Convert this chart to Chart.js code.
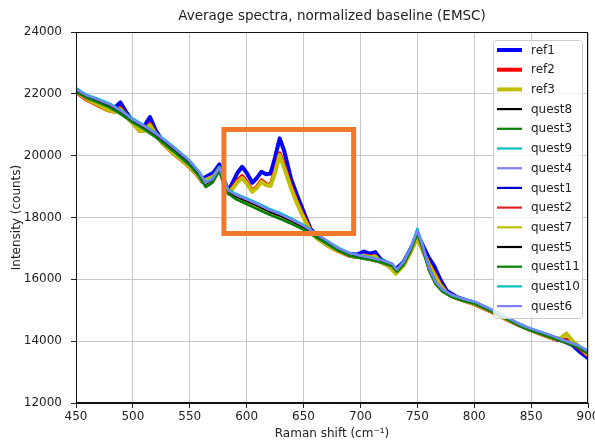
<!DOCTYPE html>
<html>
<head>
<meta charset="utf-8">
<script src="https://cdn.jsdelivr.net/npm/chart.js@4.4.1/dist/chart.umd.min.js"></script>
<style>
  html, body { margin: 0; padding: 0; background: #fff; }
  canvas { display: block; }
</style>
</head>
<body>
<canvas id="spectraChart" width="595" height="442"></canvas>
<script>
// Raman shift sampling (cm-1)
const refShift = [450, 460, 470, 478, 484, 489, 494, 500, 506, 510, 515, 520, 526, 535, 545, 555, 561, 566, 571, 576,
                  580, 584, 588, 592, 596, 600, 605, 609, 613, 617, 621, 625, 629, 633, 639, 644, 648, 652, 656, 662,
                  670, 680, 690, 697, 703, 708, 713, 718, 725, 731, 738, 744, 750, 755, 760, 765, 770, 776, 785, 800,
                  815, 830, 845, 860, 870, 876, 881, 886, 893, 900];
const questShift = [450, 460, 470, 480, 490, 500, 510, 520, 530, 540, 550, 558, 564, 570, 576, 580, 584, 590, 600, 610,
                    620, 630, 640, 650, 660, 670, 680, 690, 700, 710, 720, 728, 732, 738, 744, 750, 755, 760, 766, 772,
                    780, 790, 800, 810, 820, 830, 840, 850, 860, 870, 880, 890, 900];

// intensities (counts)
const ref1 = [22150, 21880, 21720, 21560, 21560, 21720, 21420, 21100, 20850, 20950, 21250, 20820, 20480, 20170, 19870, 19520, 19250, 19350, 19460, 19720,
              19200, 18870, 19150, 19450, 19640, 19450, 19120, 19280, 19480, 19400, 19420, 19950, 20560, 20150, 19250, 18750, 18380, 18000, 17640, 17380,
              17180, 16980, 16830, 16800, 16900, 16830, 16880, 16640, 16500, 16330, 16560, 16980, 17460, 17080, 16700, 16420, 16000, 15620, 15420, 15240,
              14990, 14700, 14450, 14230, 14080, 14030, 13960, 13880, 13650, 13450];
const ref2 = [22060, 21800, 21620, 21470, 21430, 21540, 21320, 21050, 20800, 20820, 21030, 20710, 20400, 20090, 19790, 19440, 19160, 19240, 19320, 19580,
              19100, 18780, 18980, 19200, 19340, 19150, 18860, 19000, 19200, 19080, 19060, 19500, 20080, 19680, 19000, 18530, 18190, 17880, 17580, 17330,
              17120, 16920, 16770, 16720, 16770, 16730, 16750, 16560, 16430, 16230, 16470, 16890, 17380, 16920, 16520, 16200, 15850, 15560, 15390, 15200,
              14950, 14670, 14430, 14210, 14070, 14040, 14050, 13960, 13750, 13540];
const ref3 = [22080, 21820, 21640, 21480, 21420, 21500, 21300, 21040, 20800, 20800, 20990, 20700, 20400, 20100, 19800, 19450, 19180, 19250, 19330, 19600,
              19120, 18800, 18950, 19150, 19280, 19100, 18830, 18960, 19160, 19050, 19020, 19450, 20020, 19600, 18950, 18480, 18150, 17850, 17560, 17320,
              17120, 16920, 16780, 16720, 16760, 16720, 16740, 16560, 16430, 16180, 16450, 16880, 17350, 16900, 16500, 16150, 15820, 15550, 15380, 15210,
              14960, 14680, 14440, 14220, 14080, 14100, 14250, 14020, 13800, 13560];

const quest8 = [22100, 21920, 21780, 21580, 21400, 21100, 20920, 20640, 20400, 20060, 19780, 19400, 19060, 19180, 19560, 19140, 18830, 18690, 18530, 18340,
                18190, 18060, 17850, 17690, 17440, 17230, 16980, 16820, 16720, 16660, 16560, 16470, 16280, 16510, 16940, 17500, 16990, 16340, 15880, 15650,
                15480, 15330, 15260, 15090, 14890, 14730, 14510, 14380, 14240, 14130, 13990, 13850, 13640];
const quest3 = [22060, 21850, 21700, 21540, 21320, 21060, 20840, 20590, 20300, 20000, 19680, 19340, 18980, 19120, 19500, 19080, 18760, 18600, 18430, 18260,
                18090, 17940, 17780, 17600, 17380, 17160, 16930, 16760, 16680, 16610, 16520, 16420, 16220, 16470, 16900, 17460, 16940, 16300, 15840, 15600,
                15430, 15300, 15210, 15040, 14860, 14680, 14480, 14330, 14210, 14080, 13950, 13810, 13600];
const quest9 = [22180, 21960, 21830, 21680, 21460, 21200, 20980, 20740, 20460, 20160, 19840, 19500, 19140, 19260, 19620, 19220, 18900, 18780, 18620, 18460,
                18280, 18140, 17960, 17760, 17510, 17270, 17040, 16860, 16780, 16700, 16620, 16510, 16320, 16580, 17020, 17640, 17080, 16400, 15920, 15680,
                15500, 15380, 15290, 15120, 14940, 14760, 14560, 14410, 14290, 14160, 14020, 13890, 13700];
const quest4 = [22140, 21930, 21790, 21640, 21420, 21150, 20940, 20700, 20420, 20120, 19800, 19460, 19110, 19230, 19600, 19180, 18860, 18730, 18570, 18410,
                18230, 18090, 17910, 17720, 17480, 17250, 17010, 16840, 16750, 16680, 16590, 16490, 16300, 16550, 16980, 17560, 17030, 16380, 15900, 15660,
                15490, 15360, 15270, 15100, 14920, 14740, 14540, 14390, 14270, 14140, 14000, 13870, 13670];
const quest1 = [22120, 21880, 21750, 21610, 21370, 21110, 20890, 20650, 20370, 20070, 19750, 19410, 19070, 19190, 19570, 19160, 18830, 18670, 18510, 18350,
                18170, 18030, 17860, 17670, 17440, 17210, 16980, 16810, 16740, 16650, 16560, 16450, 16250, 16510, 16940, 17510, 17020, 16400, 15920, 15640,
                15460, 15330, 15240, 15070, 14890, 14710, 14510, 14360, 14240, 14110, 13970, 13830, 13610];
const quest2 = [22080, 21840, 21700, 21560, 21340, 21080, 20860, 20620, 20340, 20040, 19720, 19380, 19040, 19160, 19540, 19110, 18790, 18640, 18480, 18310,
                18140, 17990, 17820, 17640, 17410, 17180, 16950, 16780, 16700, 16620, 16530, 16430, 16230, 16490, 16920, 17480, 16960, 16320, 15850, 15610,
                15440, 15310, 15220, 15050, 14870, 14690, 14490, 14340, 14220, 14090, 13960, 13820, 13620];
const quest7 = [22090, 21860, 21690, 21530, 21320, 21050, 20830, 20590, 20310, 20010, 19700, 19370, 19030, 19150, 19530, 19120, 18800, 18650, 18490, 18330,
                18150, 18010, 17840, 17650, 17420, 17190, 16960, 16790, 16700, 16630, 16540, 16440, 16200, 16480, 16920, 17470, 16970, 16330, 15860, 15620,
                15450, 15320, 15230, 15060, 14880, 14700, 14500, 14350, 14230, 14100, 13970, 13840, 13630];
const quest5 = [22130, 21910, 21770, 21610, 21390, 21130, 20910, 20670, 20390, 20090, 19770, 19430, 19090, 19210, 19590, 19160, 18830, 18690, 18530, 18370,
                18190, 18050, 17880, 17690, 17460, 17230, 17000, 16810, 16730, 16660, 16570, 16470, 16270, 16530, 16960, 17530, 17010, 16360, 15890, 15630,
                15470, 15340, 15250, 15080, 14900, 14720, 14520, 14370, 14250, 14120, 13980, 13850, 13650];
const quest11 = [22070, 21860, 21710, 21550, 21330, 21070, 20850, 20600, 20310, 20010, 19690, 19350, 18990, 19130, 19510, 19090, 18770, 18610, 18440, 18270,
                 18100, 17950, 17790, 17610, 17390, 17170, 16940, 16770, 16690, 16620, 16530, 16430, 16240, 16480, 16910, 17470, 16950, 16310, 15850, 15610,
                 15440, 15310, 15220, 15050, 14870, 14690, 14490, 14340, 14220, 14090, 13960, 13820, 13610];
const quest10 = [22170, 21950, 21820, 21670, 21450, 21190, 20970, 20730, 20450, 20150, 19830, 19490, 19130, 19250, 19640, 19210, 18890, 18760, 18600, 18440,
                 18260, 18120, 17940, 17750, 17500, 17260, 17030, 16850, 16770, 16690, 16610, 16500, 16310, 16570, 17010, 17620, 17070, 16390, 15910, 15670,
                 15490, 15370, 15280, 15110, 14930, 14750, 14550, 14400, 14280, 14150, 14010, 13880, 13690];
const quest6 = [22150, 21940, 21800, 21650, 21430, 21160, 20950, 20710, 20430, 20130, 19810, 19470, 19120, 19240, 19610, 19190, 18870, 18740, 18580, 18420,
                18240, 18100, 17920, 17730, 17490, 17260, 17020, 16850, 16760, 16690, 16600, 16500, 16310, 16560, 16990, 17570, 17040, 16390, 15910, 15670,
                15500, 15370, 15280, 15110, 14930, 14750, 14550, 14400, 14280, 14150, 14010, 13880, 13680];

// highlighted region (orange frame)
const boxShift = [580, 694, 694, 580, 580];
const boxIntensity = [20850, 20850, 17480, 17480, 20850];

const xTicks = [450, 500, 550, 600, 650, 700, 750, 800, 850, 900];
const yTicks = [12000, 14000, 16000, 18000, 20000, 22000, 24000];

const seriesNames = ['ref1', 'ref2', 'ref3', 'quest8', 'quest3', 'quest9', 'quest4', 'quest1', 'quest2', 'quest7',
                     'quest5', 'quest11', 'quest10', 'quest6'];
const seriesValues = [ref1, ref2, ref3, quest8, quest3, quest9, quest4, quest1, quest2, quest7, quest5, quest11, quest10, quest6];
const seriesColors = ['#0000ff', '#ff0000', '#bfbf00', '#000000', '#008000', '#00bfbf', '#8080ff', '#0000cc', '#e02020', '#bfbf00',
                      '#000000', '#008000', '#00bfbf', '#8080ff'];

const toPoints = (xs, ys) => xs.map((x, i) => ({ x: x, y: ys[i] }));

const datasets = seriesNames.map((name, i) => {
    const isRef = name.startsWith('ref');
    return {
        label: name,
        data: toPoints(isRef ? refShift : questShift, seriesValues[i]),
        borderColor: seriesColors[i],
        backgroundColor: seriesColors[i],
        borderWidth: isRef ? 4 : 2.2,
        order: 30 - i,   // later series drawn on top, like matplotlib
        fill: false
    };
});

datasets.push({
    label: 'box',
    noLegend: true,
    data: toPoints(boxShift, boxIntensity),
    borderColor: '#f07828',
    borderWidth: 5,
    borderJoinStyle: 'miter',
    borderCapStyle: 'square',
    order: 0,
    fill: false
});

const FONT = '"DejaVu Sans", sans-serif';

const decorations = {
    id: 'decorations',
    afterDraw(chart) {
        const ctx = chart.ctx;
        const area = chart.chartArea;
        ctx.save();

        // spines
        ctx.strokeStyle = '#111';
        ctx.lineWidth = 1;
        ctx.strokeRect(area.left + 0.5, area.top + 0.5, area.right - area.left - 1, area.bottom - area.top - 1);

        // legend inside the plot, top right
        const items = chart.data.datasets.filter(d => !d.noLegend);
        const lx = area.right - 95, ly = area.top + 8, lw = 89, lh = 278;
        ctx.fillStyle = 'rgba(255,255,255,0.8)';
        ctx.strokeStyle = '#cccccc';
        ctx.beginPath();
        ctx.roundRect(lx + 0.5, ly + 0.5, lw, lh, 3);
        ctx.fill();
        ctx.stroke();
        ctx.font = '12px ' + FONT;
        ctx.textBaseline = 'middle';
        ctx.textAlign = 'left';
        items.forEach((d, i) => {
            const y = ly + 10 + i * 19.7;
            ctx.strokeStyle = d.borderColor;
            ctx.lineWidth = d.borderWidth;
            ctx.beginPath();
            ctx.moveTo(lx + 4, y);
            ctx.lineTo(lx + 29, y);
            ctx.stroke();
            ctx.fillStyle = '#222';
            ctx.fillText(d.label, lx + 38, y + 0.5);
        });

        // title and axis labels
        ctx.fillStyle = '#222';
        ctx.textAlign = 'center';
        ctx.font = '13.5px ' + FONT;
        ctx.fillText('Average spectra, normalized baseline (EMSC)', (area.left + area.right) / 2, 16);
        ctx.font = '12px ' + FONT;
        ctx.fillText('Raman shift (cm\u207B\u00B9)', (area.left + area.right) / 2, 434);
        ctx.translate(17, (area.top + area.bottom) / 2);
        ctx.rotate(-Math.PI / 2);
        ctx.fillText('Intensity (counts)', 0, 0);
        ctx.restore();
    }
};

new Chart(document.getElementById('spectraChart').getContext('2d'), {
    type: 'line',
    data: { datasets: datasets },
    options: {
        responsive: false,
        animation: false,
        devicePixelRatio: 1,
        layout: { padding: { top: 32, right: 7, bottom: 0, left: 0 } },
        elements: {
            point: { radius: 0, hoverRadius: 0 },
            line: { tension: 0, borderJoinStyle: 'round', borderCapStyle: 'round' }
        },
        plugins: {
            legend: { display: false },
            title: { display: false },
            tooltip: { enabled: false }
        },
        scales: {
            x: {
                type: 'linear',
                min: 450,
                max: 900,
                afterBuildTicks: s => { s.ticks = xTicks.map(v => ({ value: v })); },
                afterFit: s => { s.height = 39; s.paddingLeft = 0; s.paddingRight = 0; },
                grid: { color: '#c8c8c8', lineWidth: 1, tickLength: 5, tickColor: '#222' },
                border: { color: '#111' },
                ticks: { color: '#222', font: { family: FONT, size: 12 }, padding: 2, maxRotation: 0 }
            },
            y: {
                min: 12000,
                max: 24000,
                afterBuildTicks: s => { s.ticks = yTicks.map(v => ({ value: v })); },
                afterFit: s => { s.width = 76; s.paddingTop = 0; s.paddingBottom = 0; },
                grid: { color: '#c8c8c8', lineWidth: 1, tickLength: 5, tickColor: '#222' },
                border: { color: '#111' },
                ticks: { color: '#222', font: { family: FONT, size: 12 }, padding: 9, callback: v => String(v) }
            }
        }
    },
    plugins: [decorations]
});
</script>
</body>
</html>
